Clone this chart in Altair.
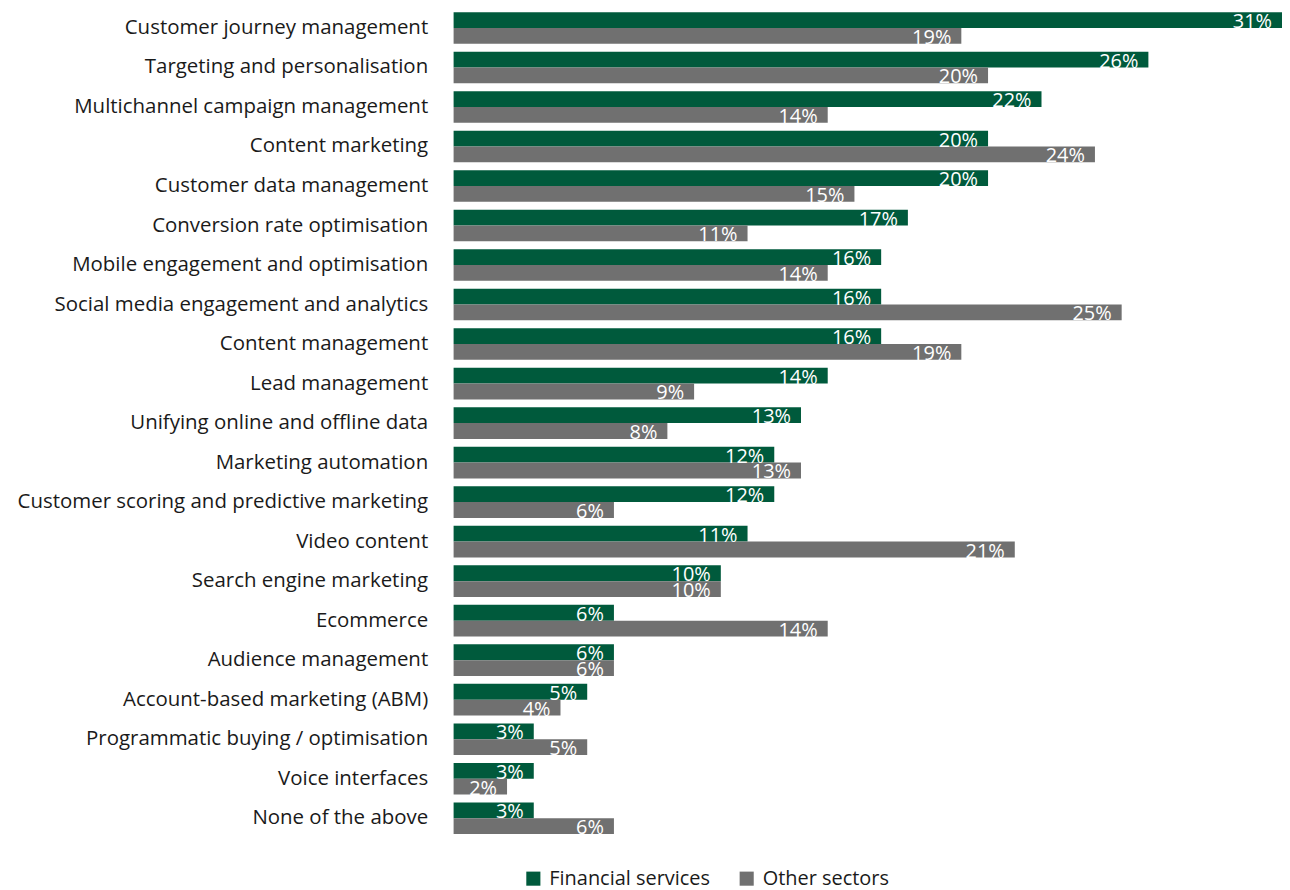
import altair as alt
import pandas as pd

categories = [
    "Customer journey management",
    "Targeting and personalisation",
    "Multichannel campaign management",
    "Content marketing",
    "Customer data management",
    "Conversion rate optimisation",
    "Mobile engagement and optimisation",
    "Social media engagement and analytics",
    "Content management",
    "Lead management",
    "Unifying online and offline data",
    "Marketing automation",
    "Customer scoring and predictive marketing",
    "Video content",
    "Search engine marketing",
    "Ecommerce",
    "Audience management",
    "Account-based marketing (ABM)",
    "Programmatic buying / optimisation",
    "Voice interfaces",
    "None of the above",
]
financial = [31, 26, 22, 20, 20, 17, 16, 16, 16, 14, 13, 12, 12, 11, 10, 6, 6, 5, 3, 3, 3]
other = [19, 20, 14, 24, 15, 11, 14, 25, 19, 9, 8, 13, 6, 21, 10, 14, 6, 4, 5, 2, 6]
series = ["Financial services", "Other sectors"]
colors = ["#005a3c", "#707070"]

rows = []
for c, f, o in zip(categories, financial, other):
    rows.append({"cat": c, "series": series[0], "value": f, "label": f"{f}%"})
    rows.append({"cat": c, "series": series[1], "value": o, "label": f"{o}%"})
df = pd.DataFrame(rows)

FONT = "Open Sans"

y = alt.Y("cat:N", sort=categories,
          scale=alt.Scale(paddingInner=0.2, paddingOuter=0.07),
          axis=alt.Axis(title=None, ticks=False, domain=False, grid=False, labelPadding=26,
                        labelFontSize=20.5, labelColor="#1a1a1a", labelFont=FONT,
                        labelLimit=0))
x = alt.X("value:Q", scale=alt.Scale(domain=[0, 31], nice=False, zero=True), axis=None)
yoff = alt.YOffset("series:N", sort=series, scale=alt.Scale(paddingInner=0, paddingOuter=0))
color = alt.Color("series:N", sort=series,
                  scale=alt.Scale(domain=series, range=colors),
                  legend=alt.Legend(title=None, orient="none", direction="horizontal",
                                    legendX=70, legendY=862, symbolType="square",
                                    symbolSize=200, symbolStrokeWidth=0,
                                    labelFontSize=20, labelFont=FONT, labelColor="#1a1a1a",
                                    labelLimit=0, columnPadding=26, symbolOffset=0,
                                    labelOffset=6))

bars = alt.Chart(df).mark_bar(opacity=1).encode(y=y, x=x, yOffset=yoff, color=color)
text = alt.Chart(df).mark_text(align="right", baseline="alphabetic", dx=-10, dy=8,
                               fontSize=20, font=FONT, color="white").encode(
    y=y, x=x, yOffset=yoff, text="label:N")

chart = (bars + text).properties(
    width=831, height=830,
    autosize=alt.AutoSizeParams(type="none"),
    padding={"left": 447, "top": 0, "right": 0, "bottom": 54},
    background="white",
).configure_view(stroke=None).configure_axis(grid=False)

chart.save("out.html", embed_options={"renderer": "svg", "actions": False})
